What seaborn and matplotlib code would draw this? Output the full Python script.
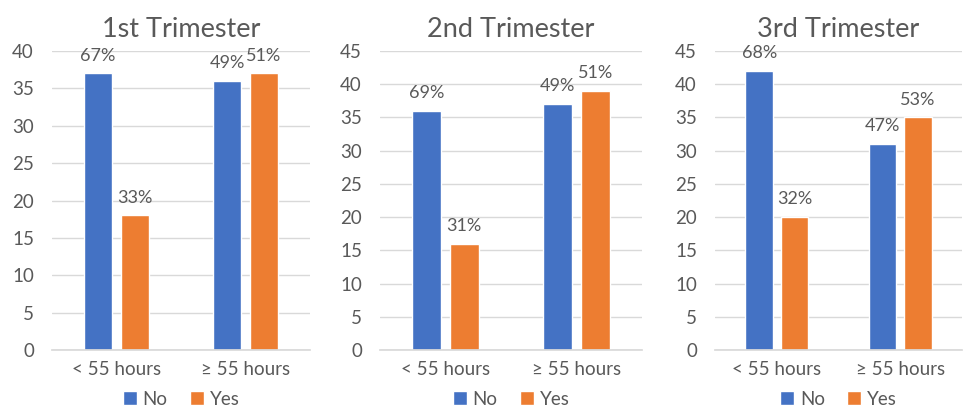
import matplotlib.pyplot as plt
import pandas as pd
import seaborn as sns

categories = ["< 55 hours", "\u2265 55 hours"]
groups = ["No", "Yes"]
titles = ["1st Trimester", "2nd Trimester", "3rd Trimester"]

no_counts = [[37, 36], [36, 37], [42, 31]]
yes_counts = [[18, 37], [16, 39], [20, 35]]
no_pct = [[67, 49], [69, 49], [68, 47]]
yes_pct = [[33, 51], [31, 51], [32, 53]]
y_max = [40, 45, 45]

colors = {"No": "#4472C4", "Yes": "#ED7D31"}
text_color = "#595959"

sns.set_theme(style="white")
plt.rcParams["font.family"] = ["Lato", "DejaVu Sans"]

fig = plt.figure(figsize=(9.63, 4.12), dpi=100)
# axes boxes in pixels: (left, right)
boxes = [(52, 310), (380, 642), (715, 962)]
bottom_px, top_px = 350, 51

for i, (left, right) in enumerate(boxes):
    ax = fig.add_axes([left / 963, (412 - bottom_px) / 412,
                       (right - left) / 963, (bottom_px - top_px) / 412])
    df = pd.DataFrame({
        "category": categories * 2,
        "group": ["No"] * 2 + ["Yes"] * 2,
        "count": no_counts[i] + yes_counts[i],
    })
    sns.barplot(data=df, x="category", y="count", hue="group", order=categories,
                hue_order=groups, palette=colors, width=0.57, gap=0.22,
                saturation=1, ax=ax)
    for cont, pct in zip(ax.containers, [no_pct[i], yes_pct[i]]):
        ax.bar_label(cont, labels=[f"{p}%" for p in pct], padding=7,
                     fontsize=13, color=text_color)

    ax.set_ylim(0, y_max[i])
    ax.set_yticks(range(0, y_max[i] + 1, 5))
    ax.set_xlim(-0.5, 1.5)
    ax.yaxis.grid(True, color="#D9D9D9", linewidth=1)
    ax.set_axisbelow(True)
    for s in ["top", "right", "left"]:
        ax.spines[s].set_visible(False)
    ax.spines["bottom"].set_color("#D9D9D9")
    ax.tick_params(axis="y", length=0, pad=13, labelsize=13.5, labelcolor=text_color)
    ax.tick_params(axis="x", length=0, pad=8, labelsize=13.5, labelcolor=text_color)
    ax.set_xlabel("")
    ax.set_ylabel("")
    ax.set_title(titles[i], fontsize=19.5, color=text_color, pad=10)
    ax.legend(loc="center", bbox_to_anchor=(0.5, -0.165), ncol=2, frameon=False,
              fontsize=13.5, labelcolor=text_color, handlelength=0.75,
              handleheight=0.75, handletextpad=0.3, columnspacing=1.2)

fig.savefig("out.png", dpi=100)
